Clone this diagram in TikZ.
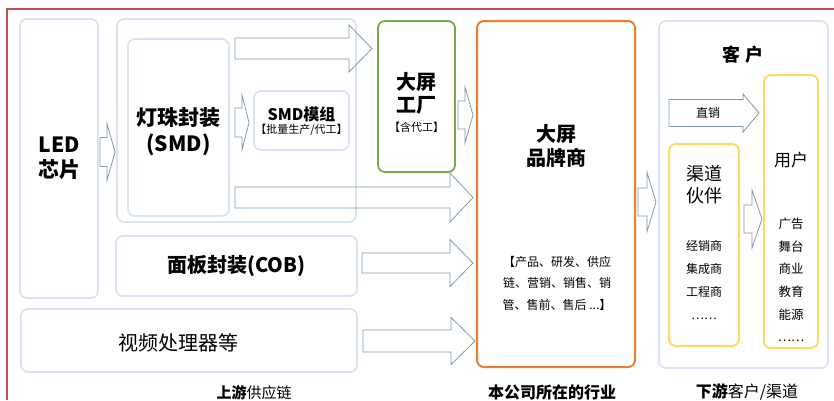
\documentclass[tikz,border=0pt]{standalone}
\usepackage{fontspec}
\setmainfont{Noto Sans CJK SC}
\usetikzlibrary{positioning}
\definecolor{boxblue}{HTML}{DAE3F3}
\definecolor{arrowgray}{HTML}{8497B0}
\definecolor{framered}{HTML}{C0504D}
\definecolor{factorygreen}{HTML}{70AD47}
\definecolor{brandorange}{HTML}{ED7D31}
\definecolor{useryellow}{HTML}{FFD966}
\newcommand{\fs}[2]{\fontsize{#1}{#2}\selectfont}
% block arrow: x start, x tip, head start, y centre, body half, head half
\newcommand{\blockarrow}[6]{%
  \draw[flow] (#1,#4-#5) -- (#3,#4-#5) -- (#3,#4-#6) -- (#2,#4)
    -- (#3,#4+#6) -- (#3,#4+#5) -- (#1,#4+#5) -- cycle;}
\begin{document}
\begin{tikzpicture}[x=1pt,y=-1pt,
  box/.style = {draw=boxblue, line width=1.8pt, rounded corners=7pt, inner sep=0pt, align=center},
  greenbox/.style = {box, draw=factorygreen},
  orangebox/.style = {box, draw=brandorange, line width=2pt},
  yellowbox/.style = {box, draw=useryellow, line width=2pt},
  flow/.style = {draw=arrowgray, line width=0.8pt, line join=miter},
  txt/.style = {inner sep=0pt, align=center}]
\useasboundingbox (0,0) rectangle (834,400);
\draw[framered, line width=2pt] (7,400) -- (7,9) -- (834,9);

% upstream
\node[box, minimum width=78pt, minimum height=279pt, font=\bfseries\fs{21}{25}] (led) at (59,158.5) {LED\\芯片};
\node[box, minimum width=239pt, minimum height=203pt] (smdgroup) at (236.5,120.5) {};
\node[box, minimum width=101pt, minimum height=177pt] (lamp) at (178.5,127.5) {};
\node[txt, font=\bfseries\fs{21}{26}] (lamptext) at (178.5,132) {灯珠封装\\(SMD)};
\node[box, minimum width=95pt, minimum height=59pt] (module) at (301.5,120.5) {};
\node[txt, font=\bfseries\fs{16}{17}] (moduletitle) at (301.5,114) {SMD模组};
\node[txt, font=\fs{11}{14}] (modulenote) at (301.5,130) {【批量生产/代工】};
\node[box, minimum width=241pt, minimum height=60pt, font=\bfseries\fs{20}{24}] (cob) at (236.5,266) {面板封装(COB)};
\node[box, minimum width=336pt, minimum height=63pt] (video) at (189,340.5) {};
\node[txt, font=\fs{20}{24}] (videotext) at (178,343) {视频处理器等};

% factory and brand
\node[greenbox, minimum width=77pt, minimum height=151pt] (factory) at (416.5,96.5) {};
\node[txt, font=\bfseries\fs{20}{23}] (factorytitle) at (416.5,93) {大屏\\工厂};
\node[txt, font=\fs{11}{14}] (factorynote) at (416.5,127) {【含代工】};
\node[orangebox, minimum width=158pt, minimum height=346pt] (brand) at (556,194) {};
\node[txt, font=\bfseries\fs{20}{24}] (brandtitle) at (556,146) {大屏\\品牌商};
\node[txt, font=\fs{12}{21.5}] (brandtext) at (557,283) {【产品、研发、供应\\链、营销、销售、销\\管、售前、售后 ...】};

% customers
\node[box, minimum width=169pt, minimum height=347pt] (customer) at (743.5,194.5) {};
\node[txt, font=\bfseries\fs{18}{20}] (customertitle) at (743,55) {客 户};
\node[yellowbox, minimum width=70pt, minimum height=202pt] (channel) at (704,245) {};
\node[txt, font=\fs{18}{22}] (channeltitle) at (704,185) {渠道\\伙伴};
\node[txt, font=\fs{12}{23}] (channellist) at (704,280) {经销商\\集成商\\工程商\\……};
\node[yellowbox, minimum width=54pt, minimum height=273pt] (user) at (791,211.5) {};
\node[txt, font=\fs{17}{20}] (usertitle) at (791,160) {用户};
\node[txt, font=\fs{12.5}{22.6}] (userlist) at (791,280) {广告\\舞台\\商业\\教育\\能源\\……};

% arrows
\blockarrow{100}{115}{107}{152}{14.5}{28.5}
\blockarrow{235}{372}{349}{48.5}{10.5}{23.5}
\blockarrow{235}{249}{242}{122.5}{14.5}{27.5}
\blockarrow{235}{473}{450}{197.5}{10.5}{24.5}
\blockarrow{458}{473}{465}{115}{14}{28}
\blockarrow{362}{473}{450}{263}{10}{23.5}
\blockarrow{363}{475}{451}{341}{11}{23.5}
\blockarrow{638}{656}{647}{202}{14}{29.5}
\blockarrow{669}{759}{743}{113}{13.5}{19}
\blockarrow{744}{762}{752}{219}{14}{29}
\node[txt, font=\fs{12}{14}] (direct) at (708,113) {直销};

% captions
\node[txt, font=\fs{15}{18}] (upcap) at (254,393) {\textbf{上游}供应链};
\node[txt, font=\bfseries\fs{16}{18}] (midcap) at (552,392) {本公司所在的行业};
\node[txt, font=\fs{16}{18}] (downcap) at (747,392) {\textbf{下游}客户/渠道};
\end{tikzpicture}
\end{document}
